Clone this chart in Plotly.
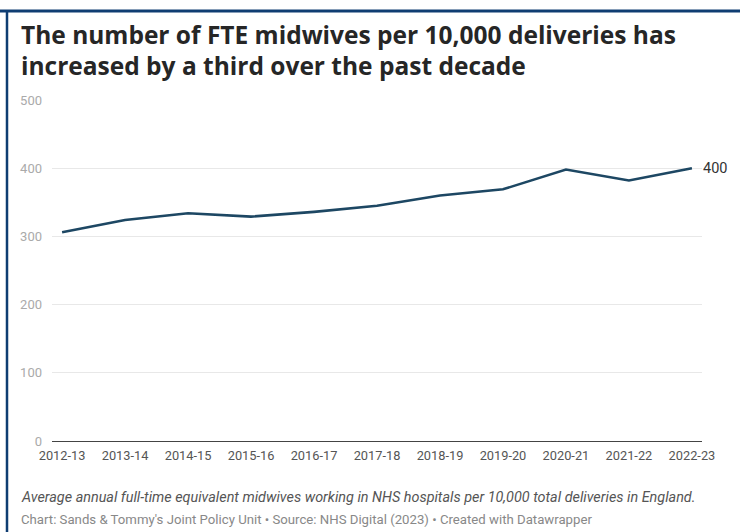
import plotly.graph_objects as go

# Financial years and FTE midwives per 10,000 deliveries
years = ["2012-13", "2013-14", "2014-15", "2015-16", "2016-17", "2017-18",
         "2018-19", "2019-20", "2020-21", "2021-22", "2022-23"]
midwives_per_10k = [306, 324, 334, 329, 336, 345, 360, 369, 398, 382, 400]
y_ticks = [0, 100, 200, 300, 400, 500]

title_lines = ["The number of FTE midwives per 10,000 deliveries has",
               "increased by a third over the past decade"]
description = ("Average annual full-time equivalent midwives working in NHS hospitals "
               "per 10,000 total deliveries in England.")
credit = "Chart: Sands & Tommy's Joint Policy Unit • Source: NHS Digital (2023) • Created with Datawrapper"

W, H = 740, 532
L, R, T, B = 52, 38, 100, 91
PW, PH = W - L - R, H - T - B


def px(x):
    return (x - L) / PW


def py(y):
    return (H - B - y) / PH


LINE_COLOR = "#1d4763"
BORDER = "#0f3d72"

fig = go.Figure()
fig.add_trace(go.Scatter(
    x=list(range(len(years))), y=midwives_per_10k, mode="lines",
    line=dict(color=LINE_COLOR, width=2.6), hoverinfo="skip", showlegend=False,
))

annotations = [
    dict(x=len(years) - 1, y=midwives_per_10k[-1], xref="x", yref="y",
         text=str(midwives_per_10k[-1]), showarrow=False, xanchor="left",
         xshift=9, font=dict(family="Roboto", size=14.5, color="#333333")),
]
for i, line in enumerate(title_lines):
    annotations.append(dict(
        x=px(19), y=py(35 + 30 * i), xref="paper", yref="paper", text=f"<b>{line}</b>",
        showarrow=False, xanchor="left", yanchor="middle",
        font=dict(family="Open Sans", size=24.5, color="#262626")))
annotations.append(dict(
    x=px(19), y=py(497), xref="paper", yref="paper", text=f"<i>{description}</i>",
    showarrow=False, xanchor="left", yanchor="middle",
    font=dict(family="Roboto", size=14.4, color="#555555")))
annotations.append(dict(
    x=px(19), y=py(519), xref="paper", yref="paper", text=credit,
    showarrow=False, xanchor="left", yanchor="middle",
    font=dict(family="Roboto", size=13.2, color="#888888")))

shapes = [
    # frame: top and left rule
    dict(type="line", xref="paper", yref="paper", x0=px(0), x1=px(W), y0=py(11), y1=py(11),
         line=dict(color=BORDER, width=3)),
    dict(type="line", xref="paper", yref="paper", x0=px(7), x1=px(7), y0=py(10), y1=py(H + 5),
         line=dict(color=BORDER, width=2.5)),
]

fig.update_layout(
    width=W, height=H, margin=dict(l=L, r=R, t=T, b=B),
    paper_bgcolor="white", plot_bgcolor="white",
    annotations=annotations, shapes=shapes,
    xaxis=dict(
        range=[-0.16, len(years) - 1 + 0.16], tickmode="array",
        tickvals=list(range(len(years))), ticktext=years,
        showgrid=False, zeroline=False, showline=False, ticks="",
        tickfont=dict(family="Roboto", size=12.8, color="#555555"),
        ticklabelstandoff=5, fixedrange=True,
    ),
    yaxis=dict(
        range=[0, 500], tickvals=y_ticks, showgrid=True, gridcolor="#e8e8e8",
        gridwidth=1, zeroline=True, zerolinecolor="#444444", zerolinewidth=1.3,
        tickfont=dict(family="Roboto", size=13, color="#aaaaaa"),
        ticks="", ticklabelstandoff=9, fixedrange=True,
    ),
)

fig.write_html("out.html")
